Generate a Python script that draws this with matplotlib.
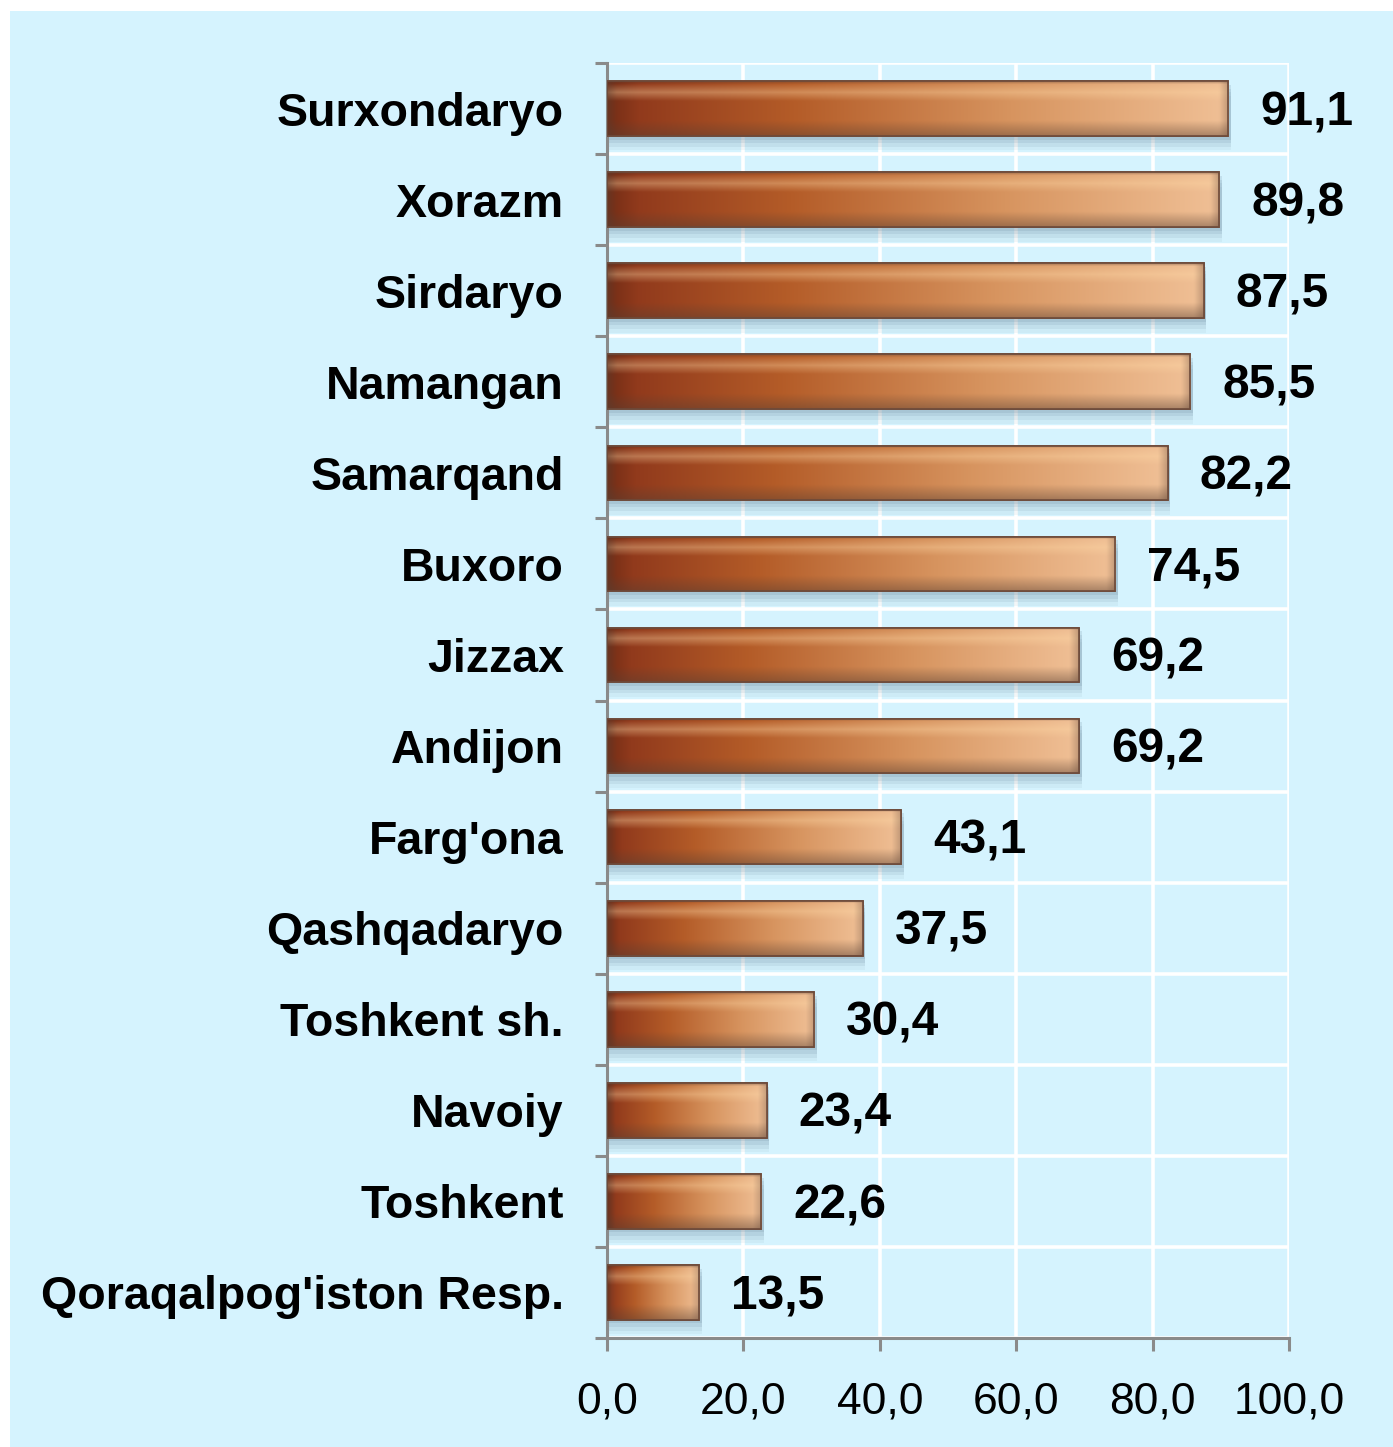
import numpy as np
import matplotlib
matplotlib.use("Agg")
import matplotlib.pyplot as plt
from matplotlib.patches import Rectangle
from matplotlib.ticker import FixedLocator, FuncFormatter

categories = ["Surxondaryo", "Xorazm", "Sirdaryo", "Namangan", "Samarqand", "Buxoro",
              "Jizzax", "Andijon", "Farg'ona", "Qashqadaryo", "Toshkent sh.", "Navoiy",
              "Toshkent", "Qoraqalpog'iston Resp."]
values = [91.1, 89.8, 87.5, 85.5, 82.2, 74.5, 69.2, 69.2, 43.1, 37.5, 30.4, 23.4, 22.6, 13.5]
xticks = [0, 20, 40, 60, 80, 100]

W, H = 1393, 1447
fig = plt.figure(figsize=(W / 100, H / 100), dpi=100)
fig.patch.set_facecolor("white")
bg = "#D5F3FE"
fig.patches.append(Rectangle((10 / W, 0), 1 - 10 / W, 1 - 11 / H, transform=fig.transFigure,
                             facecolor=bg, edgecolor="none", zorder=-5))

ax = fig.add_axes([607 / W, 1 - 1338 / H, (1289 - 607) / W, (1338 - 63) / H])
ax.set_facecolor(bg)
ax.set_xlim(0, 100)
n = len(categories)
ax.set_ylim(n - 0.5, -0.5)

narrow = ["Liberation Sans Narrow", "Liberation Sans", "DejaVu Sans"]
wide = ["Liberation Sans", "DejaVu Sans"]

# grid
ax.set_axisbelow(True)
ax.xaxis.set_major_locator(FixedLocator(xticks))
ax.yaxis.set_major_locator(FixedLocator(range(n)))
ax.yaxis.set_minor_locator(FixedLocator([i - 0.5 for i in range(n + 1)]))
ax.grid(True, axis="x", which="major", color="white", lw=2.6, zorder=0)
ax.grid(True, axis="y", which="minor", color="white", lw=2.6, zorder=0)
ax.grid(False, axis="y", which="major")

for s in ["top", "right"]:
    ax.spines[s].set_visible(False)
for s in ["left", "bottom"]:
    ax.spines[s].set_color("#8a8a8a")
    ax.spines[s].set_linewidth(2.2)

ax.tick_params(axis="y", which="major", length=0, pad=31)
ax.tick_params(axis="y", which="minor", length=9, width=2.2, color="#8a8a8a", direction="out")
ax.tick_params(axis="x", which="major", length=9, width=2.2, color="#8a8a8a", direction="out", pad=22)

ax.set_yticks(range(n))
ax.set_yticklabels(categories, fontsize=33.5, fontweight="bold", family=wide)
ax.xaxis.set_major_formatter(FuncFormatter(lambda v, p: f"{v:.1f}".replace(".", ",")))
for lab in ax.get_xticklabels():
    lab.set_fontsize(32)
    lab.set_family(narrow)

bar_h = 0.6
px_per_unit = (1289 - 607) / 100.0

stops_x = np.array([0.0, 0.05, 0.3, 0.65, 1.0])
stops_c = np.array([[115, 45, 22], [145, 58, 28], [180, 92, 40], [215, 148, 95], [240, 192, 150]]) / 255.0


def bar_image(v):
    nx, ny = 300, 60
    xs = np.linspace(0, 1, nx)
    base = np.stack([np.interp(xs, stops_x, stops_c[:, k]) for k in range(3)], axis=1)
    img = np.tile(base[None, :, :], (ny, 1, 1))
    t = np.linspace(0, 1, ny)[:, None, None]
    light = np.array([1.0, 0.85, 0.65])
    dark = np.array([0.35, 0.25, 0.2])
    hi = np.clip(1 - np.abs(t - 0.2) / 0.16, 0, 1) * 0.38
    img = img * (1 - hi) + light * hi
    sh = np.clip((t - 0.72) / 0.28, 0, 1) * 0.45
    img = img * (1 - sh) + dark * sh
    te = np.clip((0.05 - t) / 0.05, 0, 1) * 0.4
    img = img * (1 - te) + dark * te
    cap = 9.0 / (v * px_per_unit)
    xx = xs[None, :, None]
    rc = np.clip((xx - (1 - cap)) / cap, 0, 1) * 0.3
    img = img * (1 - rc) + dark * rc
    lc = np.clip((cap - xx) / cap, 0, 1) * 0.4
    img = img * (1 - lc) + dark * lc
    return np.clip(img, 0, 1)


for i, v in enumerate(values):
    for k, (dy, a) in enumerate([(0.04, 0.18), (0.08, 0.15), (0.12, 0.12), (0.16, 0.08)]):
        ax.barh(i + dy, v + 0.4, height=bar_h, left=0, color="#6f8ea0", alpha=a,
                edgecolor="none", zorder=2)
    bar = ax.barh(i, v, height=bar_h, color="#c07040", edgecolor="#6d4a3a", lw=1.2, zorder=3)[0]
    im = ax.imshow(bar_image(v), extent=(0, v, i + bar_h / 2, i - bar_h / 2), origin="upper",
                   aspect="auto", interpolation="bilinear", zorder=4)
    im.set_clip_path(bar)
    ax.barh(i, v, height=bar_h, color="none", edgecolor="#6d4a3a", lw=1.2, zorder=5)
    ax.annotate(f"{v:.1f}".replace(".", ","), xy=(v, i), xytext=(23, -3), textcoords="offset points",
                ha="left", va="center", fontsize=34.5, fontweight="bold", family=narrow,
                color="black", zorder=6, annotation_clip=False)

ax.set_xlim(0, 100)
ax.set_ylim(n - 0.5, -0.5)
fig.savefig("out.png", dpi=100, facecolor=fig.get_facecolor())
